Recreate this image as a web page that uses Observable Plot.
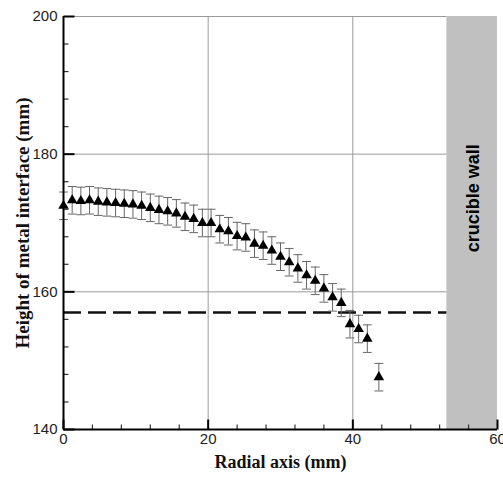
<!DOCTYPE html>
<html><head><meta charset="utf-8">
<script src="https://cdn.jsdelivr.net/npm/d3@7"></script>
<script src="https://cdn.jsdelivr.net/npm/@observablehq/plot@0.6"></script>
<style>body{margin:0;background:#fff;} svg{display:block}</style>
</head><body><div id="chart"></div>
<script>
// Measured radial positions (mm)
const radius = [0,1.2,2.4,3.6,4.8,6.0,7.2,8.4,9.6,10.8,12.0,13.2,14.4,15.6,16.8,18.0,19.2,20.4,21.6,22.8,
  24.0,25.2,26.4,27.6,28.8,30.0,31.2,32.4,33.6,34.8,36.0,37.2,38.4,39.6,40.8,42.0,43.6];
// Height of metal interface (mm)
const interfaceHeight = [172.5,173.3,173.2,173.3,173.1,173.0,172.9,172.8,172.7,172.5,172.2,171.9,171.7,171.4,170.9,170.6,170.0,170.0,169.1,168.8,
  168.1,167.9,167.0,166.7,166.0,165.1,164.3,163.4,162.4,161.6,160.5,159.2,158.4,155.3,154.6,153.2,147.6];
// Error (half-width, mm)
const errorHalf = [2,2,2,2,2,2,2,2,2,2,2,2,2,2,2,2,2,2,2,2,2,2,2,2,2,2,2,2,2,2,2,2,2,2,2,2,2];
// Reference level (dashed line)
const referenceLevel = [157];
// Crucible wall extent (mm)
const wall = [{x1: 53, x2: 60}];
const wallLabel = [{x: 56.7, y: 173.6, text: "crucible wall"}];
// Axes
const xTicks = [0, 20, 40, 60];
const yTicks = [140, 160, 180, 200];
const xMinor = [4,8,12,16,24,28,32,36,44,48,52,56];
const yMinor = [144,148,152,156,164,168,172,176,184,188,192,196];
const xGrid = [20, 40];
const yGrid = [160, 180, 200];

const data = radius.map((r, i) => ({x: r, y: interfaceHeight[i], e: errorHalf[i]}));

const capSymbol = {
  draw(ctx, size) {
    const w = Math.sqrt(size) / 1.2;
    ctx.moveTo(-w, 0); ctx.lineTo(w, 0);
  }
};
// inward tick symbols (length in pixels)
const upTick = (len) => ({draw(ctx) { ctx.moveTo(0, 0); ctx.lineTo(0, -len); }});
const rightTick = (len) => ({draw(ctx) { ctx.moveTo(0, 0); ctx.lineTo(len, 0); }});

const sans = "Liberation Sans, Arial, Helvetica, sans-serif";
const serif = "Liberation Serif, Times New Roman, serif";

const chart = Plot.plot({
  width: 503, height: 480,
  marginLeft: 63, marginRight: 6, marginTop: 16, marginBottom: 51,
  style: {background: "#fff"},
  x: {domain: [0, 60]},
  y: {domain: [140, 200]},
  marks: [
    Plot.ruleX(xGrid, {stroke: "#999", strokeWidth: 1}),
    Plot.ruleY(yGrid, {x1: 0, x2: wall[0].x1, stroke: "#999", strokeWidth: 1}),
    Plot.rect(wall, {x1: "x1", x2: "x2", fill: "#c0c0c0"}),
    Plot.text(wallLabel, {x: "x", y: "y", text: "text", rotate: -90, fontSize: 18, fontWeight: "bold", fontFamily: sans, fill: "#000"}),
    Plot.ruleY(referenceLevel, {x1: 0, x2: wall[0].x1, stroke: "#111", strokeWidth: 2.5, strokeDasharray: "18,7"}),
    Plot.ruleX(data, {x: "x", y1: d => d.y - d.e, y2: d => d.y + d.e, stroke: "#666", strokeWidth: 1}),
    Plot.dot(data, {x: "x", y: d => d.y - d.e, symbol: capSymbol, r: 3, stroke: "#666", strokeWidth: 1, fill: "none"}),
    Plot.dot(data, {x: "x", y: d => d.y + d.e, symbol: capSymbol, r: 3, stroke: "#666", strokeWidth: 1, fill: "none"}),
    Plot.dot(data, {x: "x", y: "y", symbol: "triangle", r: 3.9, fill: "#000", stroke: "none"}),
    // tick labels
    Plot.axisX(xTicks, {tickSize: 0, tickPadding: 4, fontSize: 15, fontFamily: sans, fill: "#222", label: null}),
    Plot.axisY(yTicks, {tickSize: 0, tickPadding: 6, fontSize: 15, fontFamily: sans, fill: "#222", label: null}),
    // inward tick marks
    Plot.dot(xTicks, {x: d => d, frameAnchor: "bottom", symbol: upTick(10), r: 3, stroke: "#000", strokeWidth: 2, fill: "none"}),
    Plot.dot(xMinor, {x: d => d, frameAnchor: "bottom", symbol: upTick(5), r: 3, stroke: "#333", strokeWidth: 1.2, fill: "none"}),
    Plot.dot(yTicks, {y: d => d, frameAnchor: "left", symbol: rightTick(11), r: 3, stroke: "#000", strokeWidth: 2, fill: "none"}),
    Plot.dot(yMinor, {y: d => d, frameAnchor: "left", symbol: rightTick(5), r: 3, stroke: "#333", strokeWidth: 1.2, fill: "none"}),
    Plot.ruleX([0], {stroke: "#000", strokeWidth: 2}),
    Plot.ruleY([140], {stroke: "#000", strokeWidth: 2}),
    Plot.text(["Radial axis (mm)"], {frameAnchor: "bottom", dy: 38, fontSize: 18, fontWeight: "bold", fontFamily: serif, fill: "#111"}),
    Plot.text(["Height of metal interface (mm)"], {frameAnchor: "left", dx: -41, rotate: -90, textAnchor: "middle", fontSize: 19, fontWeight: "bold", fontFamily: serif, fill: "#111"})
  ]
});
document.getElementById("chart").appendChild(chart);
</script>
</body></html>
